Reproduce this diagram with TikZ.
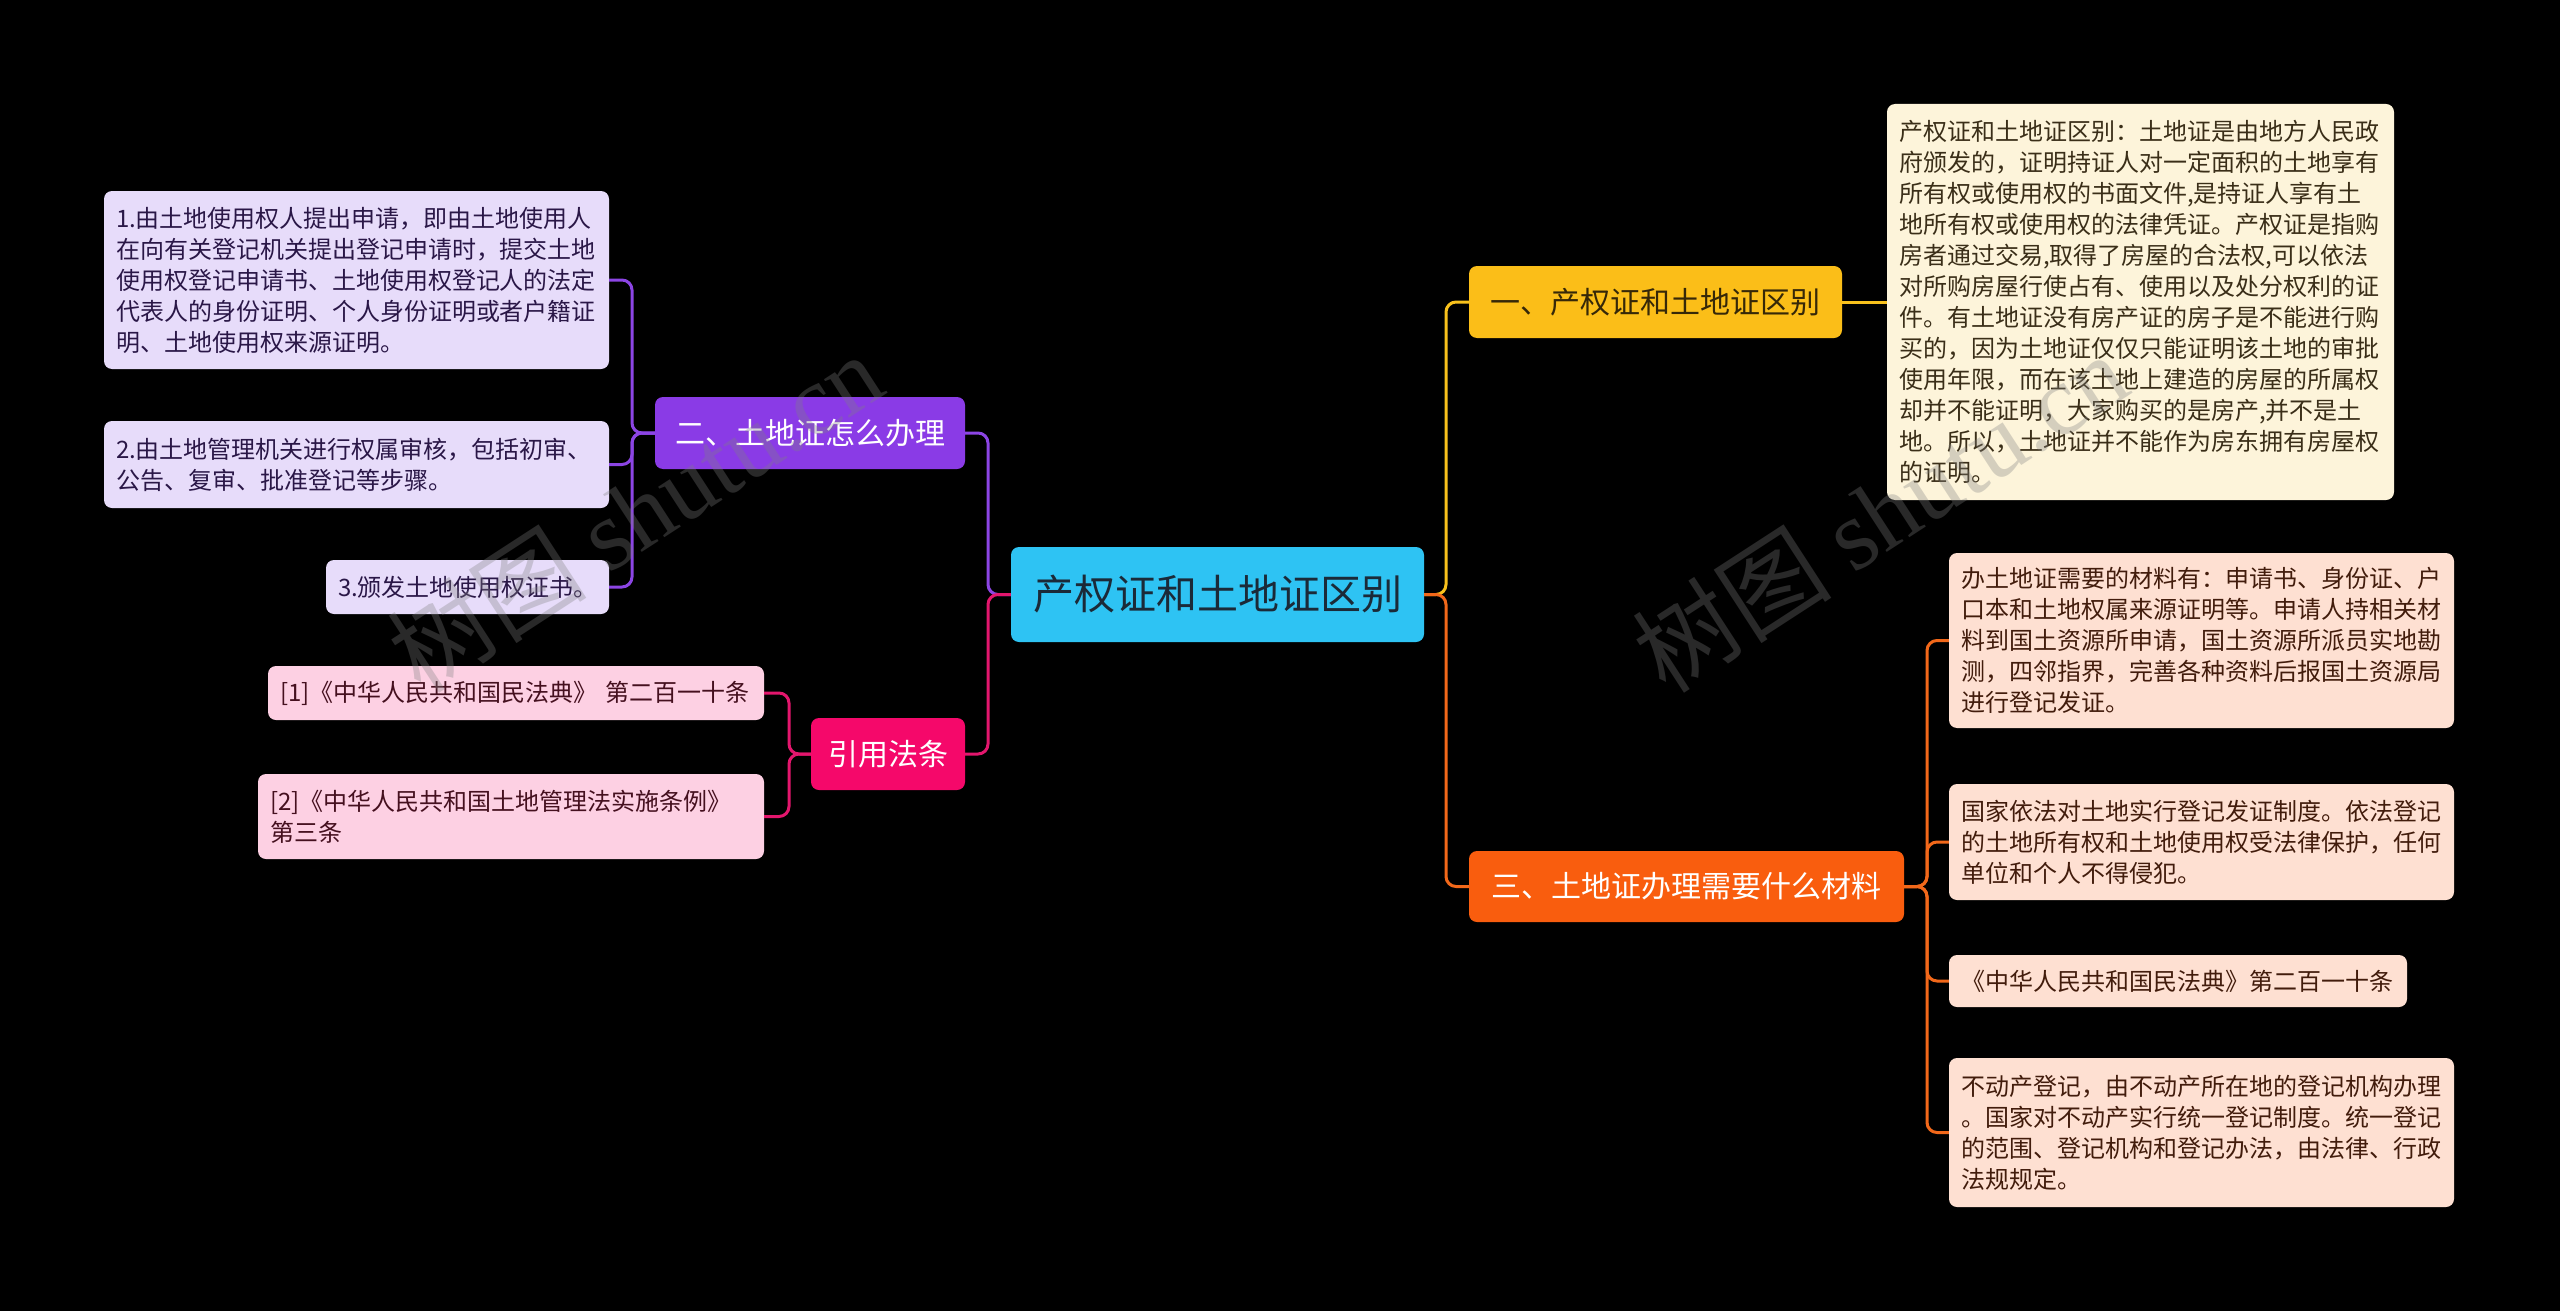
\documentclass[tikz,border=0pt]{standalone}
\usepackage{fontspec}
\setmainfont{Noto Sans CJK SC}
\newfontfamily\wmlatin{Liberation Serif}
\usetikzlibrary{calc}
\definecolor{rootc}{HTML}{2EC3F3}
\definecolor{roottx}{HTML}{1B2A38}
\definecolor{yelc}{HTML}{FBBE18}
\definecolor{yeltx}{HTML}{362808}
\definecolor{orac}{HTML}{F95D0E}
\definecolor{purc}{HTML}{8A3BE6}
\definecolor{pinc}{HTML}{F5086A}
\definecolor{yline}{HTML}{F8C11C}
\definecolor{oline}{HTML}{F2681A}
\definecolor{pline}{HTML}{8C45E4}
\definecolor{kline}{HTML}{E3166D}
\definecolor{purleaf}{HTML}{E7DCFA}
\definecolor{purtx}{HTML}{2A1747}
\definecolor{pinleaf}{HTML}{FDD0E3}
\definecolor{pintx}{HTML}{45101F}
\definecolor{yelleaf}{HTML}{FDF4DA}
\definecolor{yelltx}{HTML}{3A2E18}
\definecolor{oraleaf}{HTML}{FEE0D2}
\definecolor{oratx}{HTML}{421C0C}
\begin{document}
\begin{tikzpicture}[x=1pt,y=-1pt,
  box/.style={rounded corners=8pt, inner ysep=0pt, inner xsep=0pt, draw=none, anchor=center},
  rootbox/.style={box, fill=rootc, text=roottx, font=\fontsize{41}{48}\selectfont},
  branchbox/.style={box, font=\fontsize{30}{36}\selectfont},
  leafbox/.style={box, inner xsep=12pt, align=left, font=\fontsize{24}{31}\selectfont},
  conn/.style={line width=3pt, rounded corners=10pt},
  wmark/.style={text=gray, text opacity=0.32, font=\fontsize{100}{110}\selectfont, rotate=33}
]
\fill[black] (0,0) rectangle (2560,1311);
\useasboundingbox (0,0) rectangle (2560,1311);

% trunk x positions
\coordinate (LT) at (988,0);
\coordinate (PT) at (632,0);
\coordinate (KT) at (789,0);
\coordinate (RT) at (1446,0);
\coordinate (OT) at (1927,0);

% central and branch nodes
\node[rootbox, minimum width=413pt, minimum height=95pt] (root) at (1217.5,594.5) {产权证和土地证区别};
\node[branchbox, fill=yelc, text=yeltx, minimum width=373pt, minimum height=72pt] (b1) at (1655.5,302) {一、产权证和土地证区别};
\node[branchbox, fill=orac, text=white, minimum width=435pt, minimum height=71pt] (b3) at (1686.5,886.5) {三、土地证办理需要什么材料};
\node[branchbox, fill=purc, text=white, minimum width=310pt, minimum height=72pt] (n2) at (810,433) {二、土地证怎么办理};
\node[branchbox, fill=pinc, text=white, minimum width=154pt, minimum height=72pt] (cite) at (888,754) {引用法条};

% leaves left (purple)
\node[leafbox, fill=purleaf, text=purtx, text width=481pt, minimum height=178pt] (L1) at (356.5,280) {1.由土地使用权人提出申请，即由土地使用人\\在向有关登记机关提出登记申请时，提交土地\\使用权登记申请书、土地使用权登记人的法定\\代表人的身份证明、个人身份证明或者户籍证\\明、土地使用权来源证明。};
\node[leafbox, fill=purleaf, text=purtx, text width=481pt, minimum height=87pt] (L2) at (356.5,464.5) {2.由土地管理机关进行权属审核，包括初审、\\公告、复审、批准登记等步骤。};
\node[leafbox, fill=purleaf, text=purtx, text width=259pt, minimum height=54pt] (L3) at (467.5,587) {3.颁发土地使用权证书。};

% leaves left (pink)
\node[leafbox, fill=pinleaf, text=pintx, text width=472pt, minimum height=54pt] (P1) at (516,693) {[1]《中华人民共和国民法典》 第二百一十条};
\node[leafbox, fill=pinleaf, text=pintx, text width=482pt, minimum height=85pt] (P2) at (511,816.5) {[2]《中华人民共和国土地管理法实施条例》\\第三条};

% leaf right (yellow)
\node[leafbox, fill=yelleaf, text=yelltx, text width=483pt, minimum height=396pt] (Y1) at (2140.5,302) {产权证和土地证区别：土地证是由地方人民政\\府颁发的，证明持证人对一定面积的土地享有\\所有权或使用权的书面文件,是持证人享有土\\地所有权或使用权的法律凭证。产权证是指购\\房者通过交易,取得了房屋的合法权,可以依法\\对所购房屋行使占有、使用以及处分权利的证\\件。有土地证没有房产证的房子是不能进行购\\买的，因为土地证仅仅只能证明该土地的审批\\使用年限，而在该土地上建造的房屋的所属权\\却并不能证明，大家购买的是房产,并不是土\\地。所以，土地证并不能作为房东拥有房屋权\\的证明。};

% leaves right (orange)
\node[leafbox, fill=oraleaf, text=oratx, text width=481pt, minimum height=175pt] (R1) at (2201.5,640.5) {办土地证需要的材料有：申请书、身份证、户\\口本和土地权属来源证明等。申请人持相关材\\料到国土资源所申请，国土资源所派员实地勘\\测，四邻指界，完善各种资料后报国土资源局\\进行登记发证。};
\node[leafbox, fill=oraleaf, text=oratx, text width=481pt, minimum height=116pt] (R2) at (2201.5,842) {国家依法对土地实行登记发证制度。依法登记\\的土地所有权和土地使用权受法律保护，任何\\单位和个人不得侵犯。};
\node[leafbox, fill=oraleaf, text=oratx, text width=434pt, minimum height=52pt] (R3) at (2178,981) {《中华人民共和国民法典》第二百一十条};
\node[leafbox, fill=oraleaf, text=oratx, text width=481pt, minimum height=149pt] (R4) at (2201.5,1132.5) {不动产登记，由不动产所在地的登记机构办理\\。国家对不动产实行统一登记制度。统一登记\\的范围、登记机构和登记办法，由法律、行政\\法规规定。};

% connectors: root to branches
\draw[conn, pline] (n2.east) -| (LT |- root.west) -- (root.west);
\draw[conn, kline] (cite.east) -| (LT |- root.west) -- (root.west);
\draw[conn, yline] (b1.west) -| (RT |- root.east) -- (root.east);
\draw[conn, oline] (b3.west) -| (RT |- root.east) -- (root.east);

% branch to leaves
\draw[conn, pline] (n2.west) -| (PT |- L1.east) -- (L1.east);
\draw[conn, pline] (n2.west) -| (PT |- L2.east) -- (L2.east);
\draw[conn, pline] (n2.west) -| (PT |- L3.east) -- (L3.east);
\draw[conn, kline] (cite.west) -| (KT |- P1.east) -- (P1.east);
\draw[conn, kline] (cite.west) -| (KT |- P2.east) -- (P2.east);
\draw[conn, yline] (b1.east) -- (Y1.west);
\draw[conn, oline] (b3.east) -| (OT |- R1.west) -- (R1.west);
\draw[conn, oline] (b3.east) -| (OT |- R2.west) -- (R2.west);
\draw[conn, oline] (b3.east) -| (OT |- R3.west) -- (R3.west);
\draw[conn, oline] (b3.east) -| (OT |- R4.west) -- (R4.west);

% watermarks
\node[wmark] (wm1) at (635,512) {树图 {\wmlatin shutu.cn}};
\node[wmark] (wm2) at (1880,512) {树图 {\wmlatin shutu.cn}};
\end{tikzpicture}
\end{document}
